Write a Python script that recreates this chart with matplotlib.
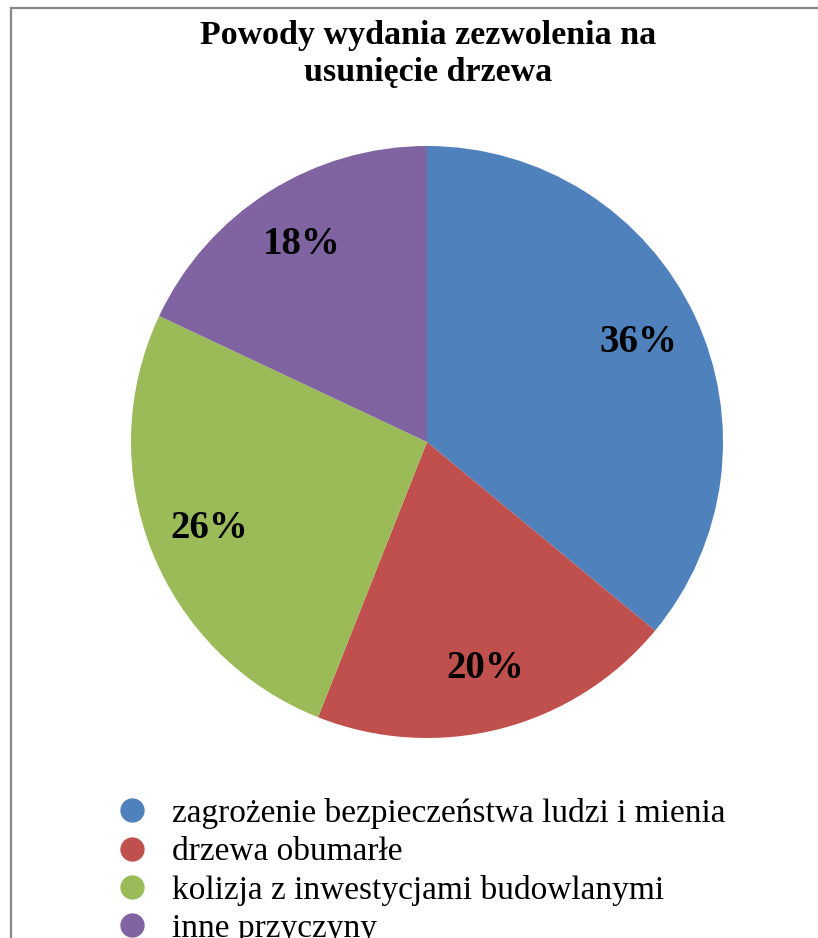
"""Pie chart: reasons for issuing tree-removal permits."""

import matplotlib
matplotlib.use("Agg")
import matplotlib.pyplot as plt
from matplotlib.lines import Line2D

plt.rcParams["font.family"] = ["Liberation Serif", "DejaVu Serif"]

TITLE = "Powody wydania zezwolenia na\nusunięcie drzewa"
CATEGORIES = [
    "zagrożenie bezpieczeństwa ludzi i mienia",
    "drzewa obumarłe",
    "kolizja z inwestycjami budowlanymi",
    "inne przyczyny",
]
SHARES = [36, 20, 26, 18]
COLORS = ["#4f81bd", "#c0504d", "#9bbb59", "#8064a2"]
BORDER = "#878787"

W, H = 818, 938
fig = plt.figure(figsize=(W / 100, H / 100), dpi=100)

# pie centre (427, 442) px, radius 296 px
R = 296
ax = fig.add_axes([(427 - R) / W, 1 - (442 + R) / H, 2 * R / W, 2 * R / H])
wedges, texts, autotexts = ax.pie(
    SHARES,
    colors=COLORS,
    startangle=90,
    counterclock=False,
    autopct="%d%%",
    pctdistance=0.79,
    radius=1.0,
    wedgeprops=dict(linewidth=0),
    textprops=dict(fontsize=28, fontweight="bold", color="black"),
)
ax.set_xlim(-1, 1)
ax.set_ylim(-1, 1)
ax.set_aspect("equal")
ax.axis("off")

fig.text(428 / W, 1 - 54 / H, TITLE, ha="center", va="center",
         fontsize=24.5, fontweight="bold", linespacing=1.22)

handles = [Line2D([], [], marker="o", linestyle="none", markersize=16.5,
                  markerfacecolor=c, markeredgecolor=c) for c in COLORS]
fig.legend(handles, CATEGORIES, loc="upper left",
           bbox_to_anchor=(115 / W, 1 - 798 / H), frameon=False,
           fontsize=24, handlelength=1.0, handletextpad=0.71,
           labelspacing=0.23, borderpad=0, borderaxespad=0)

# chart-area border (top and left edge visible in the crop)
fig.add_artist(Line2D([10.5 / W, 1], [1 - 8 / H, 1 - 8 / H], color=BORDER, lw=1.6))
fig.add_artist(Line2D([10.5 / W, 10.5 / W], [0, 1 - 8 / H], color=BORDER, lw=1.6))

fig.savefig("out.png", dpi=100)
